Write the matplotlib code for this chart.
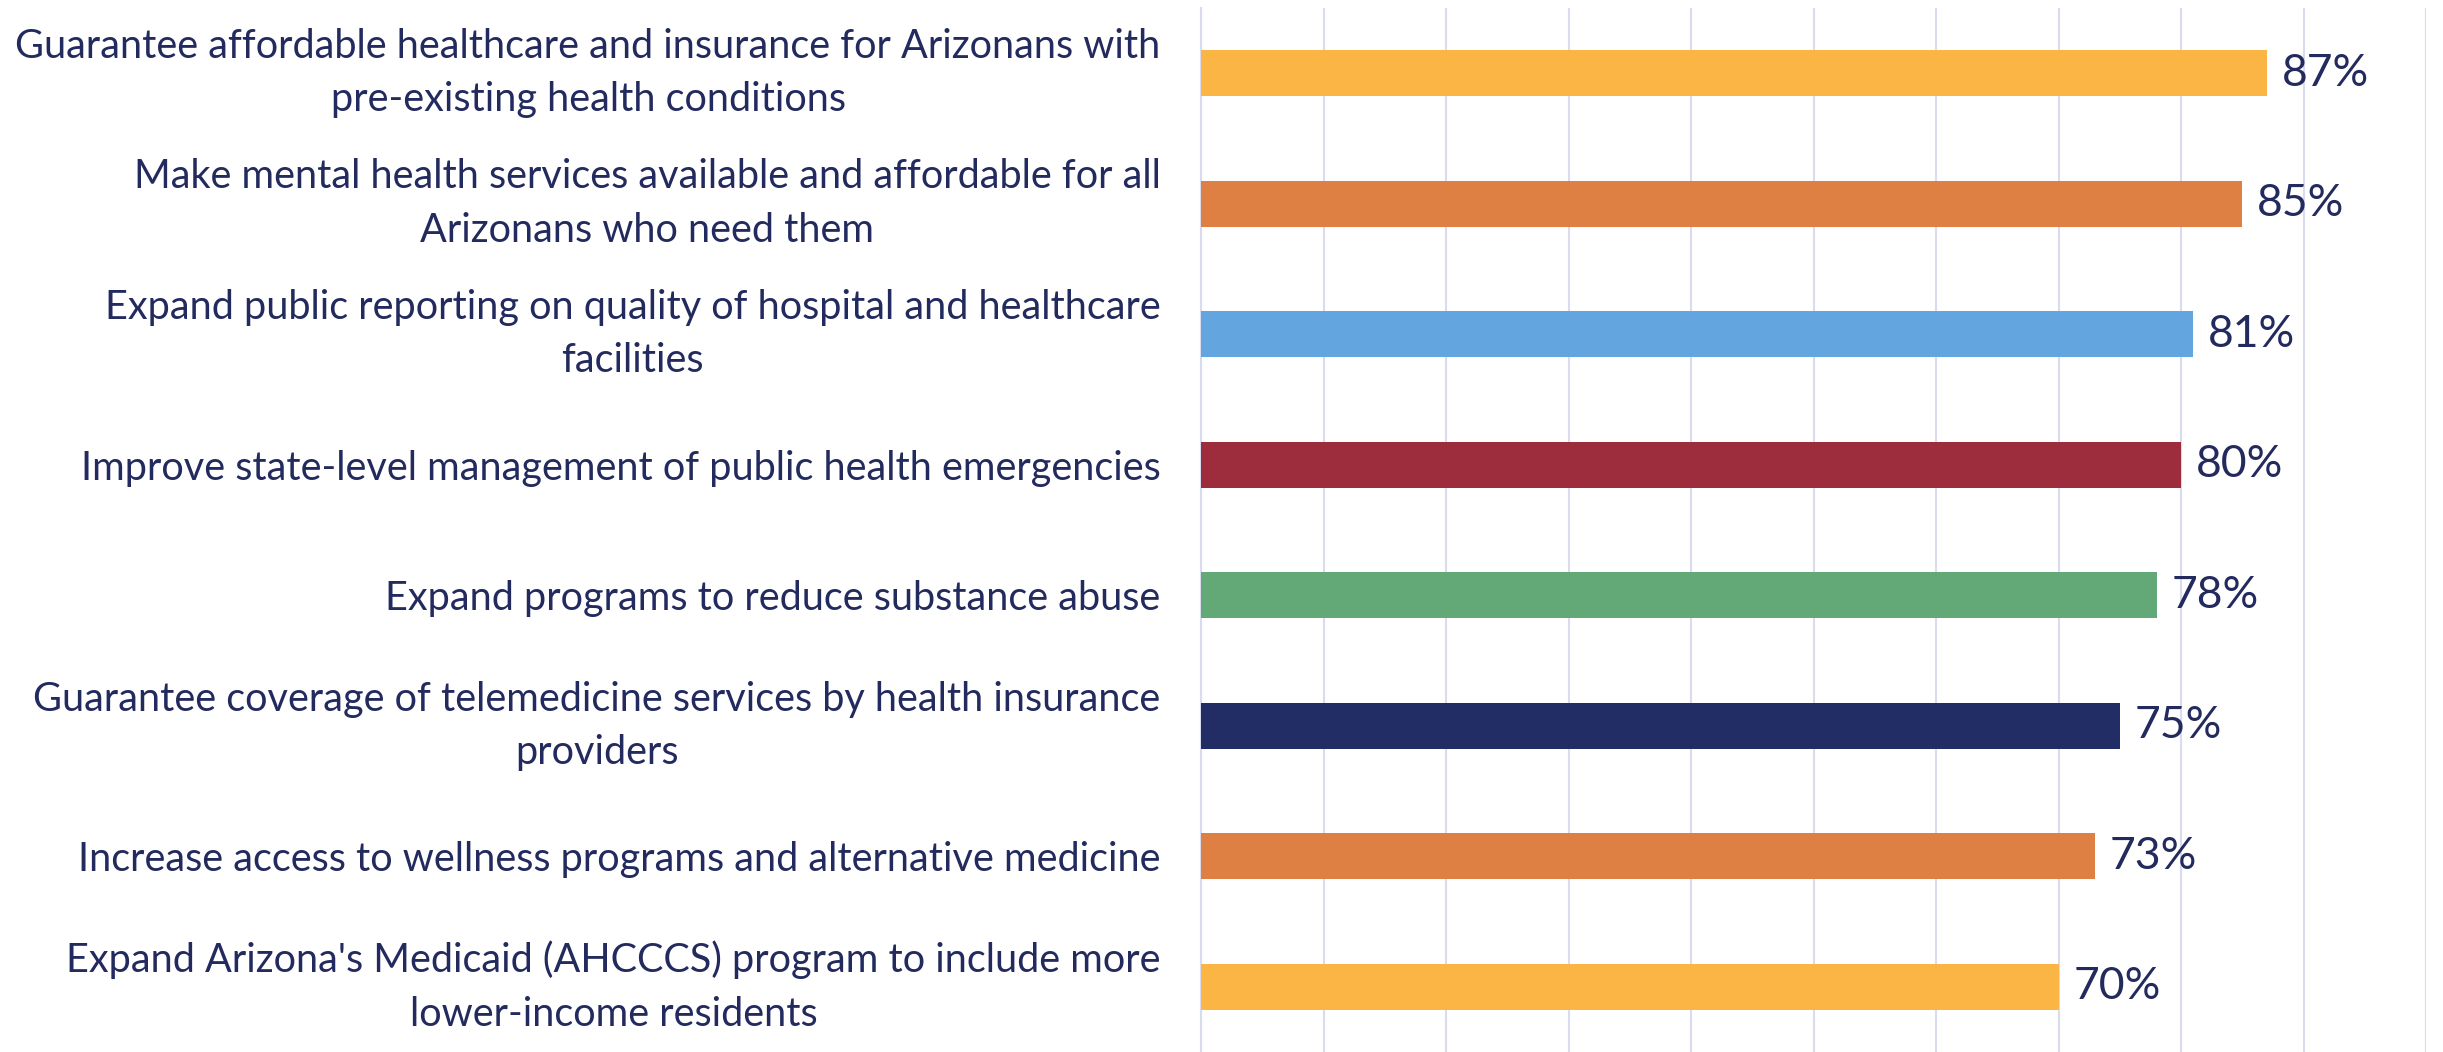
import numpy as np
import matplotlib
matplotlib.use("Agg")
import matplotlib.pyplot as plt

# survey items, top to bottom
labels = [
    "Guarantee affordable healthcare and insurance for Arizonans with\npre-existing health conditions",
    "Make mental health services available and affordable for all\nArizonans who need them",
    "Expand public reporting on quality of hospital and healthcare\nfacilities",
    "Improve state-level management of public health emergencies",
    "Expand programs to reduce substance abuse",
    "Guarantee coverage of telemedicine services by health insurance\nproviders",
    "Increase access to wellness programs and alternative medicine",
    "Expand Arizona's Medicaid (AHCCCS) program to include more\nlower-income residents",
]
values = [87, 85, 81, 80, 78, 75, 73, 70]
colors = ["#FBB545", "#DE8044", "#63A5DF", "#9D2D3C",
          "#63A978", "#222D66", "#DE8044", "#FBB545"]

text_col = "#222A5E"
grid_col = "#D9DCEF"

plt.rcParams['font.family'] = ['Lato', 'DejaVu Sans']

fig = plt.figure(figsize=(24.43, 10.52), dpi=100)
ax = fig.add_axes([1201/2443, 0.0, (2426-1201)/2443, 1 - 8/1052])

y = np.arange(len(values))
ax.barh(y, values, height=0.35, color=colors, zorder=3)

for yi, v in zip(y, values):
    ax.text(v + 1.2, yi, f"{v}%", va="center", ha="left",
            fontsize=32, color=text_col)

ax.set_xlim(0, 100)
ax.set_ylim(len(values) - 0.5, -0.5)
ax.set_xticks(np.arange(0, 101, 10))
ax.xaxis.grid(True, color=grid_col, linewidth=1.5, zorder=0)
ax.tick_params(axis="x", length=0, labelbottom=False)
ax.tick_params(axis="y", length=0, pad=29)
ax.set_yticks(y)
ax.set_yticklabels(labels, fontsize=28.5, color=text_col, linespacing=1.55)
for t in ax.get_yticklabels():
    t.set_multialignment("center")
    if "\n" in t.get_text():
        t.set_verticalalignment("center")

for s in ["top", "right", "bottom"]:
    ax.spines[s].set_visible(False)
ax.spines["left"].set_color(grid_col)
ax.spines["left"].set_linewidth(1.5)

fig.savefig("out.png", dpi=100)
